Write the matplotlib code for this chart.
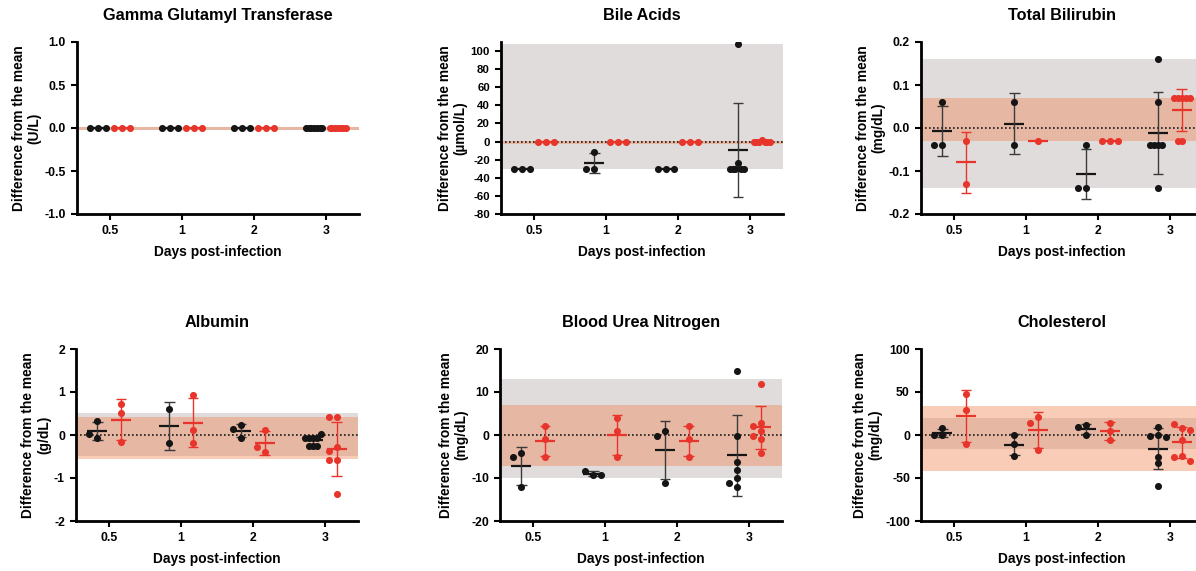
import numpy as np
import matplotlib
matplotlib.use('Agg')
import matplotlib.pyplot as plt

plt.rcParams['font.family'] = ['Liberation Sans', 'DejaVu Sans']
plt.rcParams['font.weight'] = 'bold'
plt.rcParams['axes.unicode_minus'] = False

days = ['0.5', '1', '2', '3']

# Gamma glutamyl transferase (U/L)
ggt_ctrl = [[0, 0, 0], [0, 0, 0], [0, 0, 0], [0, 0, 0, 0, 0, 0, 0]]
ggt_inf = [[0, 0, 0], [0, 0, 0], [0, 0, 0], [0, 0, 0, 0, 0, 0, 0]]
ggt_gray = (0, 0)
ggt_orange = (0, 0)

# Bile acids (umol/L)
bile_ctrl = [[-30, -30, -30], [-11, -30, -30], [-30, -30, -30],
             [108, -24, -30, -30, -30, -30, -30]]
bile_inf = [[0, 0, 0], [0, 0, 0], [0, 0, 0], [2, 0, 0, 0, 0, 0, 0]]
bile_gray = (-30.5, 108)
bile_orange = (0, 0)

# Total bilirubin (mg/dL)
tbil_ctrl = [[0.06, -0.04, -0.04], [0.06, -0.04], [-0.04, -0.14, -0.14],
             [0.16, 0.06, -0.04, -0.04, -0.04, -0.04, -0.14]]
tbil_inf = [[-0.03, -0.13], [-0.03], [-0.03, -0.03, -0.03],
            [0.07, 0.07, 0.07, 0.07, 0.07, -0.03, -0.03]]
tbil_gray = (-0.14, 0.16)
tbil_orange = (-0.03, 0.07)

# Albumin (g/dL)
alb_ctrl = [[0.33, -0.06, 0.02], [0.61, -0.18], [0.23, 0.13, -0.06],
            [-0.07, -0.07, -0.07, -0.07, 0.03, -0.25, -0.25, -0.25]]
alb_inf = [[0.73, 0.52, -0.17], [0.92, 0.12, -0.18], [0.12, -0.39, -0.29],
           [0.42, 0.42, -0.28, -0.37, -0.57, -0.57, -1.37]]
alb_gray = (-0.48, 0.52)
alb_orange = (-0.56, 0.43)

# Blood urea nitrogen (mg/dL)
bun_ctrl = [[-4.1, -5.2, -12.2], [-9.3, -8.3, -9.3], [1.0, -0.2, -11.2],
            [14.8, -0.2, -6.2, -8.1, -10.1, -11.2, -12.2]]
bun_inf = [[2, -1, -5], [4, 1, -5], [2, -1, -5],
           [11.9, 2.9, 2.0, 1.0, -0.2, -1.0, -4.1]]
bun_gray = (-10, 13)
bun_orange = (-7.2, 7)

# Cholesterol (mg/dL)
chol_ctrl = [[8, 0, 0], [0, -10, -24], [12, 9, 0],
             [9, 0, -1, -2, -25, -33, -59]]
chol_inf = [[48, 29, -11], [21, 14, -18], [14.5, 5, -5.5],
            [8, 13, 6, -6, -24, -25, -30]]
chol_gray = (-16.5, 19.6)
chol_orange = (-41.7, 34)

panels = [
    ('Gamma Glutamyl Transferase', '(U/L)', ggt_ctrl, ggt_inf, ggt_gray, ggt_orange,
     (-1, 1), np.linspace(-1, 1, 5), '%.1f', False, 8.8),
    ('Bile Acids', '(\u00b5mol/L)', bile_ctrl, bile_inf, bile_gray, bile_orange,
     (-80, 110), np.arange(-80, 101, 20), '%d', True, 8.2),
    ('Total Bilirubin', '(mg/dL)', tbil_ctrl, tbil_inf, tbil_gray, tbil_orange,
     (-0.2, 0.2), np.linspace(-0.2, 0.2, 5), '%.1f', True, 8.8),
    ('Albumin', '(g/dL)', alb_ctrl, alb_inf, alb_gray, alb_orange,
     (-2, 2), np.arange(-2, 3, 1), '%d', True, 8.8),
    ('Blood Urea Nitrogen', '(mg/dL)', bun_ctrl, bun_inf, bun_gray, bun_orange,
     (-20, 20), np.arange(-20, 21, 10), '%d', True, 8.8),
    ('Cholesterol', '(mg/dL)', chol_ctrl, chol_inf, chol_gray, chol_orange,
     (-100, 100), np.arange(-100, 101, 50), '%d', True, 8.8),
]

BLACK = '#151515'
RED = '#e8352c'
GRAY_BAND = '#e0dcdb'
ORANGE_BAND = '#f0804f'

W, H = 1196, 571
AX_W, AX_H = 282, 172
lefts = [77, 501, 921, 76, 500, 921]
bottoms = [214, 214, 214, 521, 521, 521]

fig = plt.figure(figsize=(W / 100, H / 100), dpi=100)


def swarm(vals, ypx, step=0.115, diam=6.5, xpx=72.0):
    # spread overlapping dots sideways, then squeeze to a fixed width
    cands = [0.0]
    for k in range(1, 9):
        cands += [-k * step, k * step]
    placed = []
    for v in vals:
        for c in cands:
            if all(((c - po) * xpx) ** 2 + ((v - pv) * ypx) ** 2 >= diam ** 2
                   for po, pv in placed):
                break
        placed.append((c, v))
    offs = np.array([p[0] for p in placed])
    m = np.abs(offs).max()
    if m > step:
        offs *= step / m
    return offs


def draw_group(ax, x0, vals, color, ypx, err_color):
    vals = np.asarray(vals, float)
    mean = vals.mean()
    ax.hlines(mean, x0 - 0.14, x0 + 0.14, color=color, lw=1.6, zorder=3)
    if len(vals) > 1:
        sd = vals.std(ddof=1)
        if sd > 0:
            ax.vlines(x0, mean - sd, mean + sd, color=err_color, lw=1.0, zorder=3)
            ax.hlines([mean - sd, mean + sd], x0 - 0.075, x0 + 0.075,
                      color=err_color, lw=1.0, zorder=3)
    offs = swarm(vals, ypx)
    ax.scatter(x0 + offs, vals, s=26, color=color, linewidths=0, zorder=4)


def band(ax, lims, color, alpha):
    lo, hi = lims
    if hi > lo:
        ax.axhspan(lo, hi, color=color, alpha=alpha, lw=0, zorder=0)
    else:
        ax.axhline(lo, color=color, alpha=alpha, lw=2.2, zorder=0)


for i, (title, unit, ctrl, inf, gray, orange, ylim, yticks, fmt, dotted, tsize) in enumerate(panels):
    ax = fig.add_axes([lefts[i] / W, (H - bottoms[i]) / H, AX_W / W, AX_H / H])
    band(ax, gray, GRAY_BAND, 1.0)
    band(ax, orange, ORANGE_BAND, 0.4)
    if dotted:
        ax.axhline(0, color='#1a1a1a', lw=1.2, ls=(0, (1, 1.4)), zorder=1)

    ypx = AX_H / (ylim[1] - ylim[0])
    x = np.arange(len(days))
    for j in range(len(days)):
        draw_group(ax, x[j] - 0.165, ctrl[j], BLACK, ypx, '#3a3a3a')
        draw_group(ax, x[j] + 0.165, inf[j], RED, ypx, RED)

    ax.set_xlim(-0.46, 3.46)
    ax.set_ylim(*ylim)
    ax.set_xticks(x)
    ax.set_xticklabels(days)
    ax.set_yticks(yticks)
    ax.set_yticklabels([fmt % t for t in yticks])
    for s in ['top', 'right']:
        ax.spines[s].set_visible(False)
    for s in ['left', 'bottom']:
        ax.spines[s].set_linewidth(2.0)
    ax.tick_params(width=1.5, length=4.5, pad=3.5, labelsize=8.8)
    ax.tick_params(axis='y', labelsize=tsize)
    for lab in ax.get_xticklabels() + ax.get_yticklabels():
        lab.set_fontweight('bold')

    ax.set_title(title, fontsize=11.7, fontweight='bold', pad=15.5)
    ax.set_xlabel('Days post-infection', fontsize=9.9, fontweight='bold', labelpad=6)
    ax.set_ylabel('Difference from the mean\n' + unit, fontsize=9.9,
                  fontweight='bold', labelpad=2, linespacing=1.15)

fig.savefig('out.png', dpi=100)
